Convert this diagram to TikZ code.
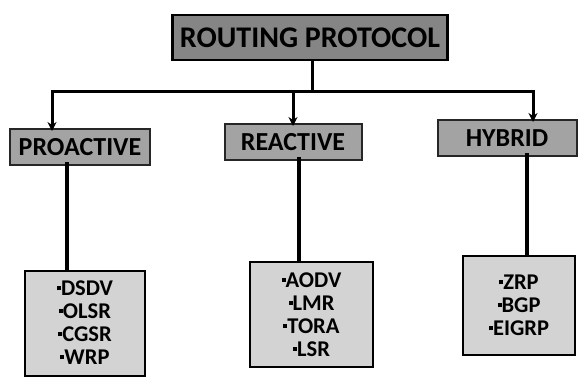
\documentclass[tikz,border=0pt]{standalone}
\usepackage{fontspec}
\setmainfont{Carlito}
\usetikzlibrary{arrows.meta}
\definecolor{titlegray}{HTML}{858585}
\definecolor{catgray}{HTML}{A3A3A3}
\definecolor{listgray}{HTML}{D3D3D3}
\newcommand\mybul{\raisebox{0.5ex}{\rule{4pt}{4pt}}}
\begin{document}
\begin{tikzpicture}[x=1pt,y=-1pt,
  titlebox/.style={draw=black,line width=2.5pt,fill=titlegray,minimum width=275pt,minimum height=45pt,inner sep=0pt,font=\fontsize{30}{34}\selectfont\bfseries},
  catbox/.style={draw=black!85,line width=2pt,fill=catgray,minimum height=36pt,inner sep=0pt,font=\fontsize{26}{28}\selectfont\bfseries},
  listbox/.style={draw=black,line width=2pt,fill=listgray,inner sep=0pt,align=center,font=\fontsize{22.5}{23}\selectfont\bfseries},
  conn/.style={line width=3pt,draw=black},
  arr/.style={conn,-{Stealth[length=9pt,width=9pt]}},
  stem/.style={line width=4pt,draw=black}]
\useasboundingbox (0,0) rectangle (580,376);
\fill[white] (0,0) rectangle (580,376);
\node[titlebox] (title) at (310,37.5) {ROUTING PROTOCOL};
\node[catbox,minimum width=140pt] (pro) at (80,147) {PROACTIVE};
\node[catbox,minimum width=137pt] (rea) at (293,142) {REACTIVE};
\node[catbox,minimum width=139pt] (hyb) at (507,138) {HYBRID};
\node[listbox,minimum width=120pt,minimum height=105pt] (l1) at (85,323) {\mybul DSDV\\ \mybul OLSR\\ \mybul CGSR\\ \mybul WRP};
\node[listbox,minimum width=123pt,minimum height=105pt] (l2) at (311.5,314.5) {\mybul AODV\\ \mybul LMR\\ \mybul TORA\\ \mybul LSR};
\node[listbox,minimum width=112pt,minimum height=99pt] (l3) at (519,305.5) {\mybul ZRP\\ \mybul BGP\\ \mybul EIGRP};
\coordinate (j) at (312,91);
\draw[conn] ([xshift=2pt]title.south) -- (j);
\draw[arr] (j) -| ([xshift=-28pt,yshift=-3pt]pro.north);
\draw[arr] (j) -| ([yshift=-3pt]rea.north);
\draw[arr] (j) -| ([xshift=26pt,yshift=-3pt]hyb.north);
\draw[stem] ([xshift=-13pt,yshift=4pt]pro.south) -- ([xshift=-13pt]pro.south |- l1.north);
\draw[stem] ([xshift=6pt,yshift=4pt]rea.south) -- ([xshift=6pt]rea.south |- l2.north);
\draw[stem] ([xshift=20pt,yshift=4pt]hyb.south) -- ([xshift=20pt]hyb.south |- l3.north);
\end{tikzpicture}
\end{document}
